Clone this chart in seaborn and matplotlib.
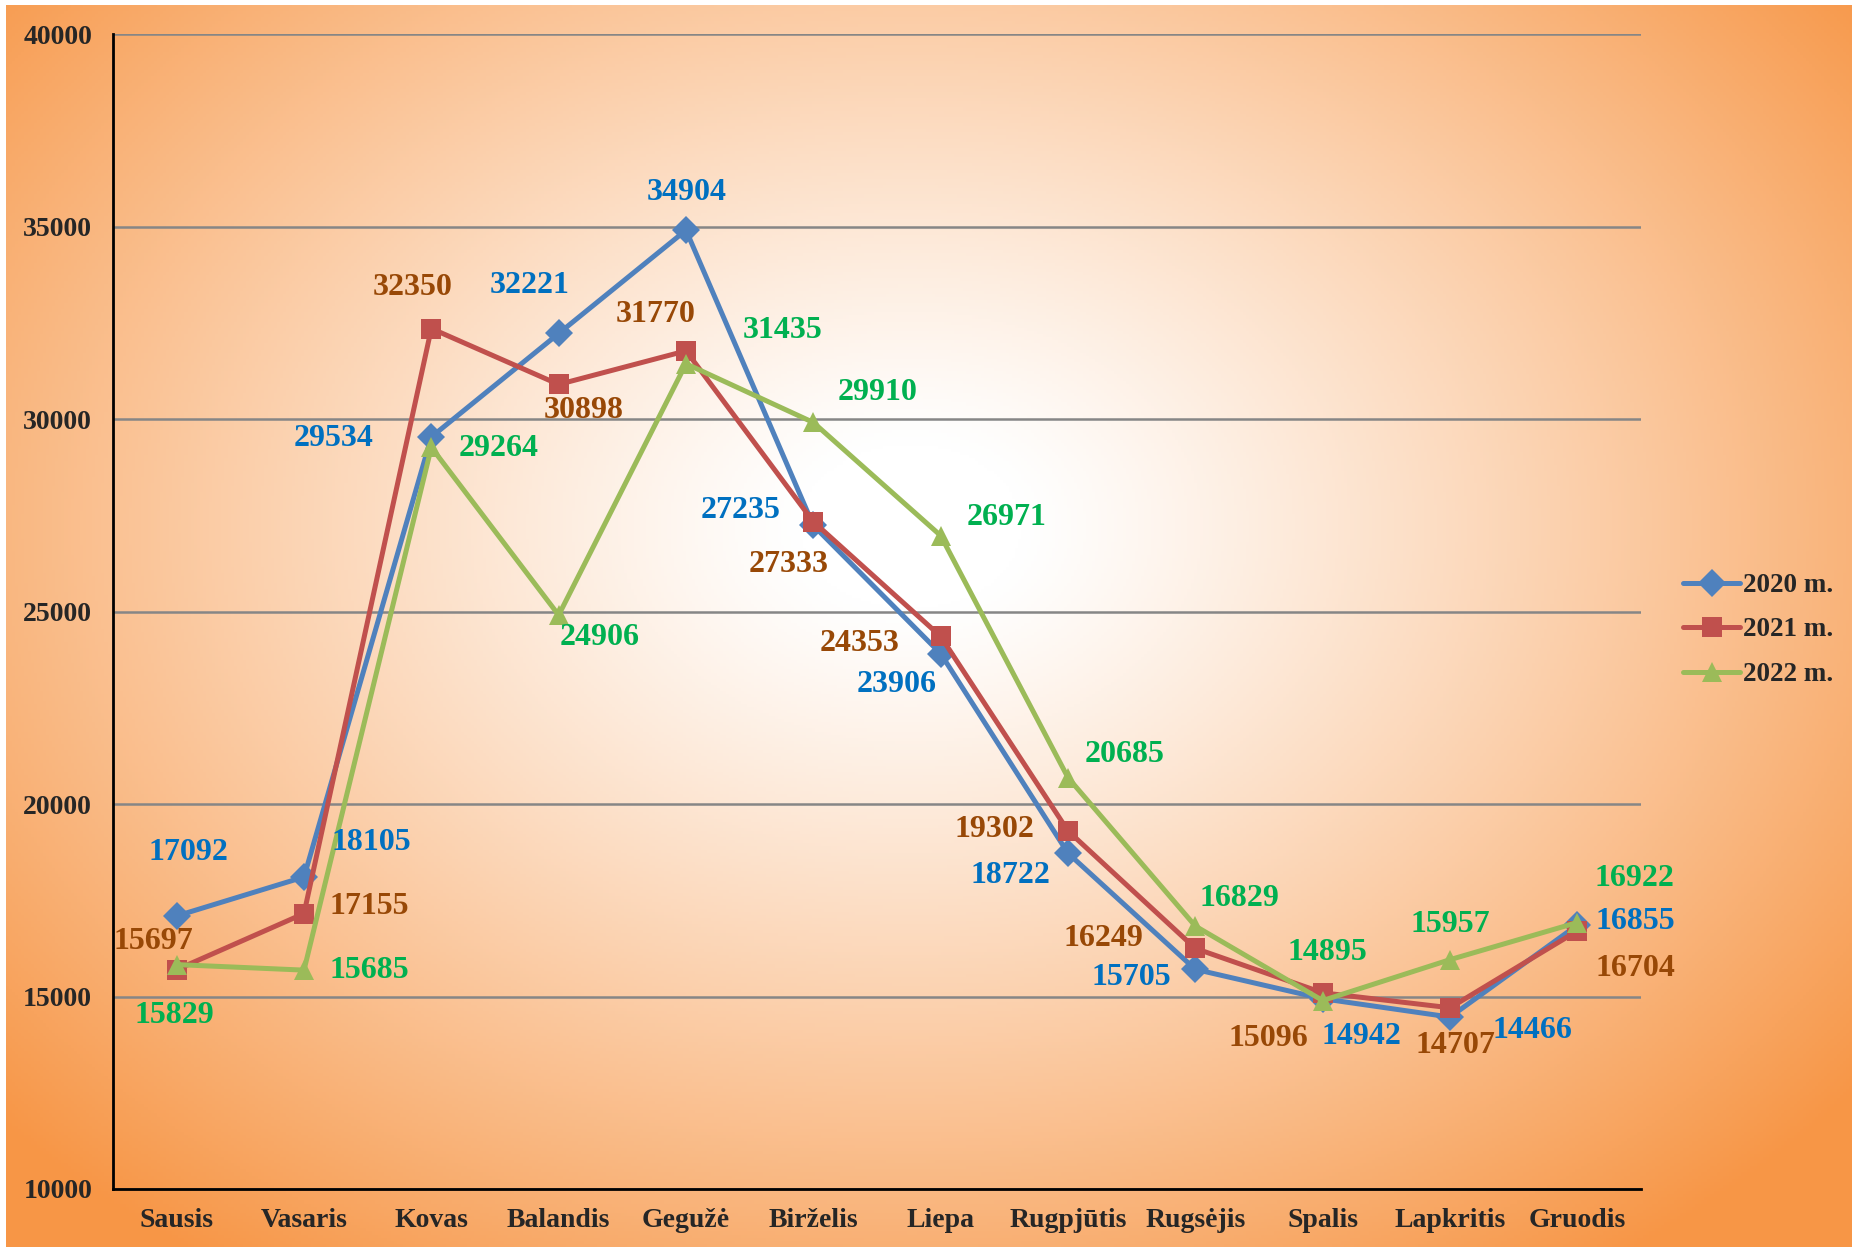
# Monthly values 2020-2022, line chart with data labels on a radial gradient
import numpy as np
import pandas as pd
import seaborn as sns
import matplotlib.pyplot as plt

months = ['Sausis', 'Vasaris', 'Kovas', 'Balandis', 'Gegužė', 'Birželis',
          'Liepa', 'Rugpjūtis', 'Rugsėjis', 'Spalis', 'Lapkritis', 'Gruodis']
years = ['2020 m.', '2021 m.', '2022 m.']
v2020 = [17092, 18105, 29534, 32221, 34904, 27235, 23906, 18722, 15705, 14942, 14466, 16855]
v2021 = [15697, 17155, 32350, 30898, 31770, 27333, 24353, 19302, 16249, 15096, 14707, 16704]
v2022 = [15829, 15685, 29264, 24906, 31435, 29910, 26971, 20685, 16829, 14895, 15957, 16922]

line_colors = ['#4F81BD', '#C0504D', '#9BBB59']
label_colors = ['#0070C0', '#984806', '#00B050']
markers = ['D', 's', '^']

# label offsets (pixels, shrunk-reference units; y down)
off2020 = [(10, -54), (57, -29), (-83, 1), (-25, -41), (1, -32), (-62, -13),
           (-37, 26), (-49, 19), (-54, 7), (33, 32), (70, 11), (49, -3)]
off2021 = [(-20, -24), (55, -6), (-16, -35), (21, 22), (-26, -31), (-21, 36),
           (-69, 6), (-62, -1), (-78, -8), (-46, 39), (5, 32), (49, 32)]
off2022 = [(-2, 43), (55, 0), (57, 1), (35, 19), (82, -28), (54, -25),
           (56, -15), (48, -20), (37, -23), (4, -41), (0, -30), (48, -37)]

df = pd.DataFrame({
    'pos': list(range(12)) * 3,
    'value': v2020 + v2021 + v2022,
    'year': [y for y in years for _ in range(12)],
})

sns.set_style('white')
plt.rcParams['font.family'] = ['Liberation Serif', 'DejaVu Serif']
plt.rcParams['font.weight'] = 'bold'

W, H = 1852, 1247
fig = plt.figure(figsize=(W / 100, H / 100), dpi=100)

# radial gradient background
bg = fig.add_axes([6 / W, 0, 1 - 6 / W, 1 - 5 / H], zorder=-10)
gx, gy = np.meshgrid(np.linspace(0, 1, 600), np.linspace(0, 1, 400))
d = np.sqrt(((gx - 0.49) / 0.5) ** 2 + ((gy - 0.42) / 0.55) ** 2)
t = np.clip((d - 0.12) / 1.2, 0, 1) ** 1.15
orange = np.array([247, 150, 70]) / 255
img = (1 - t[..., None]) * np.ones(3) + t[..., None] * orange
bg.imshow(img, aspect='auto', extent=[0, 1, 0, 1], origin='upper')
bg.axis('off')

ax = fig.add_axes([113 / W, 1 - 1189 / H, (1641 - 113) / W, (1189 - 34) / H])
ax.patch.set_alpha(0)

sns.lineplot(data=df, x='pos', y='value', hue='year', style='year',
             palette=line_colors, markers=markers, dashes=False,
             linewidth=3.6, markersize=14, markeredgewidth=0, ax=ax)

for vals, offs, c in zip([v2020, v2021, v2022], [off2020, off2021, off2022], label_colors):
    for i, (v, o) in enumerate(zip(vals, offs)):
        ax.annotate(str(v), (i, v), xytext=(o[0] * 1.181, -o[1] * 1.181),
                    textcoords='offset pixels', ha='center', va='center',
                    fontsize=23, fontweight='bold', color=c)

ax.set_xlim(-0.5, 11.5)
ax.set_ylim(10000, 40000)
ax.set_yticks(np.arange(10000, 40001, 5000))
ax.yaxis.grid(True, color='#868686', linewidth=1.8)
ax.set_axisbelow(True)
ax.set_xticks(np.arange(-0.5, 12, 1))
ax.set_xticklabels([])
ax.set_xticks(np.arange(12), minor=True)
ax.set_xticklabels(months, minor=True)
ax.tick_params(axis='x', which='major', direction='out', length=7, width=1.8, color='black')
ax.tick_params(axis='x', which='minor', length=0, pad=14, labelsize=20)
ax.tick_params(axis='y', direction='out', length=7, width=1.8, color='black', pad=8, labelsize=20)
for lab in ax.get_xticklabels(minor=True) + ax.get_yticklabels():
    lab.set_fontweight('bold')
ax.set_xlabel('')
ax.set_ylabel('')
for s in ['top', 'right']:
    ax.spines[s].set_visible(False)
for s in ['left', 'bottom']:
    ax.spines[s].set_color('black')
    ax.spines[s].set_linewidth(2)

handles, labels = ax.get_legend_handles_labels()
ax.legend(handles, labels, loc='center left', bbox_to_anchor=(1659 / W, 1 - 630 / H),
          bbox_transform=fig.transFigure, frameon=False,
          handlelength=2.1, handletextpad=0.1, labelspacing=0.72,
          prop={'weight': 'bold', 'size': 19.5})

fig.savefig('out.png', dpi=100)
